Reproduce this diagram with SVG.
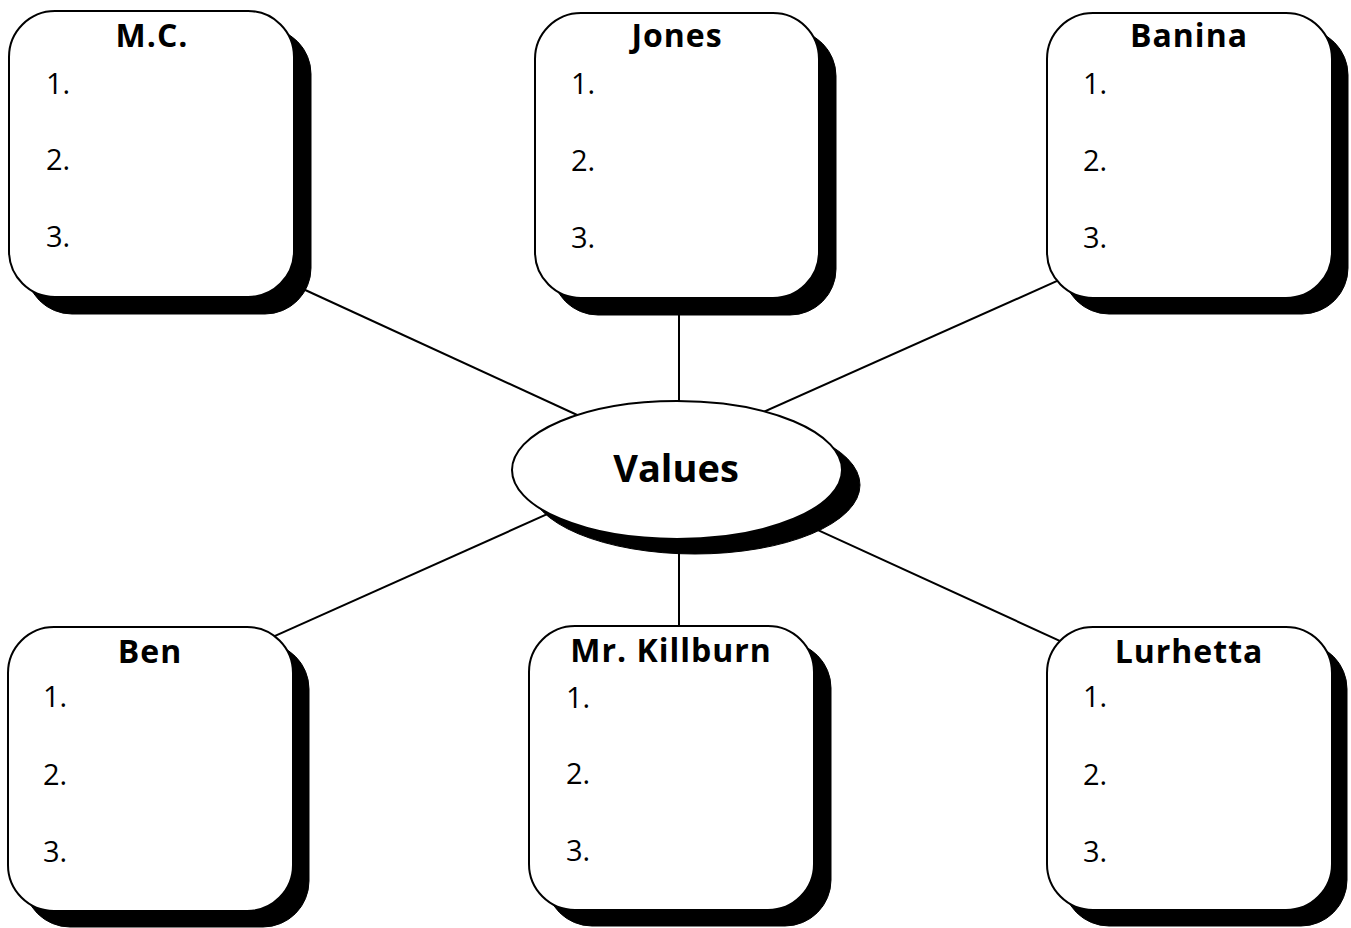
<svg xmlns="http://www.w3.org/2000/svg" width="1351" height="928" viewBox="0 0 1351 928">
<style>
.box{fill:#fff;stroke:#000;stroke-width:2}
.shadow{fill:#000;stroke:#000;stroke-width:1}
.conn{stroke:#000;stroke-width:2;fill:none}
.title{font-family:"Open Sans","Liberation Sans",sans-serif;font-weight:bold;font-size:32px;letter-spacing:1px;text-anchor:middle;fill:#000}
.num{font-family:"Open Sans","Liberation Sans",sans-serif;font-size:29px;fill:#000}
.center{font-family:"Open Sans","Liberation Sans",sans-serif;font-weight:bold;font-size:38px;text-anchor:middle;fill:#000}
</style>
<rect width="1351" height="928" fill="#fff"/>
<g id="connectors">
<line class="conn" x1="290" y1="283" x2="600" y2="425.5"/>
<line class="conn" x1="679" y1="290" x2="679" y2="430"/>
<line class="conn" x1="1070" y1="275.2" x2="750" y2="418"/>
<line class="conn" x1="260" y1="642.7" x2="560" y2="508.4"/>
<line class="conn" x1="679" y1="520" x2="679" y2="640"/>
<line class="conn" x1="800" y1="521.9" x2="1075" y2="647.8"/>
</g>
<g id="node-mc">
<rect class="shadow" x="26" y="28" width="285" height="286" rx="46"/>
<rect class="box" x="9" y="11" width="285" height="286" rx="46"/>
<text class="title" x="152" y="47">M.C.</text>
<text class="num" x="46" y="94">1.</text>
<text class="num" x="46" y="170">2.</text>
<text class="num" x="46" y="247">3.</text>
</g>
<g id="node-jones">
<rect class="shadow" x="552" y="30" width="284" height="285" rx="46"/>
<rect class="box" x="535" y="13" width="284" height="285" rx="46"/>
<text class="title" x="677" y="47">Jones</text>
<text class="num" x="571" y="94">1.</text>
<text class="num" x="571" y="171">2.</text>
<text class="num" x="571" y="248">3.</text>
</g>
<g id="node-banina">
<rect class="shadow" x="1063" y="29" width="285" height="285" rx="46"/>
<rect class="box" x="1047" y="13" width="285" height="285" rx="46"/>
<text class="title" x="1189" y="47">Banina</text>
<text class="num" x="1083" y="94">1.</text>
<text class="num" x="1083" y="171">2.</text>
<text class="num" x="1083" y="248">3.</text>
</g>
<g id="node-values">
<ellipse class="shadow" cx="695" cy="485" rx="165" ry="69"/>
<ellipse class="box" cx="677" cy="470" rx="165" ry="69"/>
<text class="center" x="676" y="482">Values</text>
</g>
<g id="node-ben">
<rect class="shadow" x="24" y="643" width="285" height="284" rx="46"/>
<rect class="box" x="8" y="627" width="285" height="284" rx="46"/>
<text class="title" x="150" y="663">Ben</text>
<text class="num" x="43" y="707">1.</text>
<text class="num" x="43" y="785">2.</text>
<text class="num" x="43" y="862">3.</text>
</g>
<g id="node-killburn">
<rect class="shadow" x="546" y="642" width="285" height="284" rx="46"/>
<rect class="box" x="529" y="626" width="285" height="284" rx="46"/>
<text class="title" x="671" y="662">Mr. Killburn</text>
<text class="num" x="566" y="708">1.</text>
<text class="num" x="566" y="784">2.</text>
<text class="num" x="566" y="861">3.</text>
</g>
<g id="node-lurhetta">
<rect class="shadow" x="1063" y="643" width="284" height="283" rx="46"/>
<rect class="box" x="1047" y="627" width="285" height="283" rx="46"/>
<text class="title" x="1189" y="663">Lurhetta</text>
<text class="num" x="1083" y="707">1.</text>
<text class="num" x="1083" y="785">2.</text>
<text class="num" x="1083" y="862">3.</text>
</g>
</svg>
